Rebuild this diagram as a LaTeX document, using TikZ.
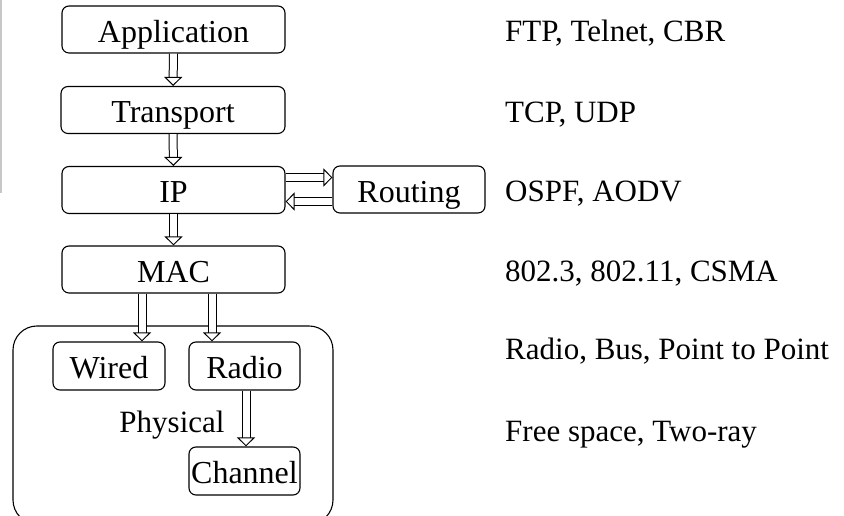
\documentclass[tikz,border=0pt]{standalone}
\usepackage{fontspec}
\setmainfont{Liberation Serif}
\usetikzlibrary{arrows.meta}
\tikzset{
  layer/.style={draw,rounded corners=7pt,line width=1.1pt,inner sep=0pt,minimum height=47pt,text height=26pt,text depth=0pt,font=\fontsize{32}{38}\selectfont},
  proto/.style={anchor=base west,inner sep=0pt,font=\fontsize{31}{37}\selectfont},
  pass/.style={double,double distance=7pt,line width=1pt,-{Triangle[open,length=9pt,width=18pt]}}
}
\begin{document}
\begin{tikzpicture}[x=1pt,y=1pt]
\useasboundingbox(0,0)rectangle(844,516);
\fill[black!22](0,516)rectangle(2,323);
\begin{scope}
\clip(0,0)rectangle(844,516);
\draw[line width=1.1pt,rounded corners=24pt](13,-8)rectangle(333,190);
\end{scope}
\node[layer,minimum width=223pt](app)at(173.5,486.5){Application};
\node[layer,minimum width=224pt](trans)at(173,406){Transport};
\node[layer,minimum width=223pt](ip)at(173.5,326){IP};
\node[layer,minimum width=152pt](rout)at(409,326.5){Routing};
\node[layer,minimum width=223pt](mac)at(173.5,246.5){MAC};
\node[layer,minimum width=112pt,minimum height=48pt](wired)at(109,150){Wired};
\node[layer,minimum width=111pt,minimum height=48pt](radio)at(244.5,150){Radio};
\node[layer,minimum width=111pt,minimum height=48pt](chan)at(244.5,45){Channel};
\node[anchor=base,inner sep=0pt,font=\fontsize{31}{37}\selectfont](phys)at(172,83){Physical};
\draw[pass](app)--(trans);
\draw[pass](trans)--(ip);
\draw[pass](ip)--(mac);
\draw[pass]([yshift=12.5pt]ip.east)--([yshift=12.5pt]ip.east-|rout.west);
\draw[pass]([yshift=-12pt]rout.west)--([yshift=-12pt]rout.west-|ip.east);
\draw[pass]([xshift=-31.5pt]mac.south)--([xshift=-31.5pt]mac.south|-wired.north);
\draw[pass]([xshift=38.5pt]mac.south)--([xshift=38.5pt]mac.south|-radio.north);
\draw[pass]([xshift=1.5pt]radio.south)--([xshift=1.5pt]chan.north);
\node[proto](p1)at(505,474){FTP, Telnet, CBR};
\node[proto](p2)at(505,393){TCP, UDP};
\node[proto](p3)at(505,314){OSPF, AODV};
\node[proto](p4)at(505,234){802.3, 802.11, CSMA};
\node[proto](p5)at(505,156){Radio, Bus, Point to Point};
\node[proto](p6)at(505,74){Free space, Two-ray};
\end{tikzpicture}
\end{document}
